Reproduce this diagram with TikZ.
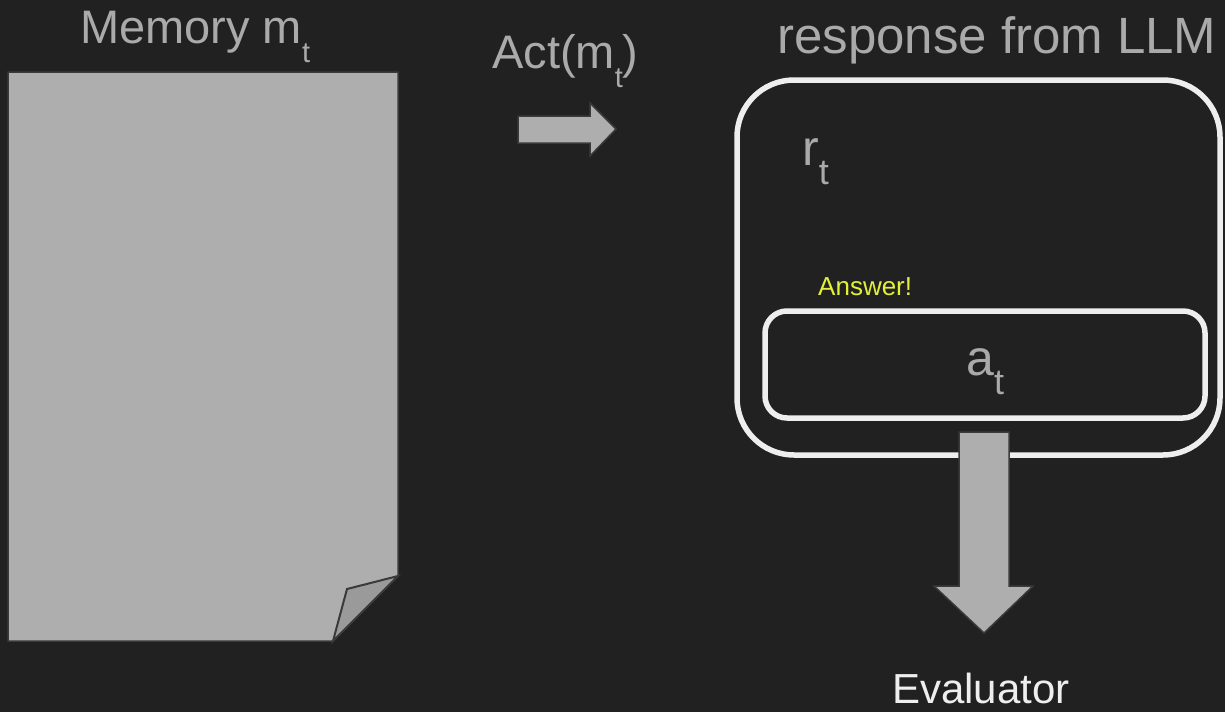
\documentclass[tikz,border=0pt]{standalone}
\usepackage{fontspec}
\setmainfont{Liberation Sans}
\definecolor{bg}{HTML}{212121}
\definecolor{labelgray}{HTML}{AAAAAA}
\definecolor{shapegray}{HTML}{AEAEAE}
\definecolor{foldgray}{HTML}{9A9A9A}
\definecolor{edgedark}{HTML}{3A3A3A}
\definecolor{frame}{HTML}{EEEEEE}
\definecolor{hint}{HTML}{E2F03A}
% subscript "t" lowered below the baseline
\newcommand{\subt}[1]{\raisebox{-19pt}{\fontsize{#1}{#1}\selectfont t}}
\tikzset{
  lbl/.style={anchor=base west, inner sep=0pt, text=labelgray},
  solidshape/.style={fill=shapegray, draw=edgedark, line width=1.5pt, line join=miter},
  frameline/.style={draw=frame, line width=5.5pt}
}
\begin{document}
\begin{tikzpicture}[x=1pt,y=-1pt]
  \fill[bg] (0,0) rectangle (1225,712);
  \useasboundingbox (0,0) rectangle (1225,712);

  % memory page with folded corner
  \draw[solidshape] (8,72) -- (398,72) -- (398,576) -- (333,641) -- (8,641) -- cycle;
  \draw[solidshape, fill=foldgray, line width=2pt] (398,576) -- (347,589) -- (333,641) -- cycle;
  \node[lbl, font=\fontsize{47}{47}\selectfont] (memory) at (80,43) {Memory m\subt{29}};

  % action arrow
  \draw[solidshape] (518,116) -- (590,116) -- (590,103) -- (616,129) -- (590,156) -- (590,143) -- (518,143) -- cycle;
  \node[lbl, font=\fontsize{47}{47}\selectfont] (act) at (492,68) {Act(m\subt{29})};

  % response frame
  \draw[frameline, rounded corners=57pt] (737,80) rectangle (1220,455);
  \node[lbl, font=\fontsize{51}{51}\selectfont] (resp) at (777,53) {response from LLM};
  \node[lbl, font=\fontsize{50}{50}\selectfont] (rt) at (802,165) {r\subt{36}};

  % answer frame
  \draw[frameline, rounded corners=22pt] (765,311) rectangle (1205,418);
  \node[lbl, font=\fontsize{26}{26}\selectfont, text=hint] (answer) at (818,295) {Answer!};
  \node[lbl, font=\fontsize{50}{50}\selectfont] (at) at (966,375) {a\subt{36}};

  % arrow down to the evaluator
  \draw[solidshape] (959,432) -- (1009,432) -- (1009,586) -- (1033,586) -- (984,633) -- (934,586) -- (959,586) -- cycle;
  \node[lbl, font=\fontsize{42}{42}\selectfont, text=frame] (eval) at (892,703) {Evaluator};
\end{tikzpicture}
\end{document}
